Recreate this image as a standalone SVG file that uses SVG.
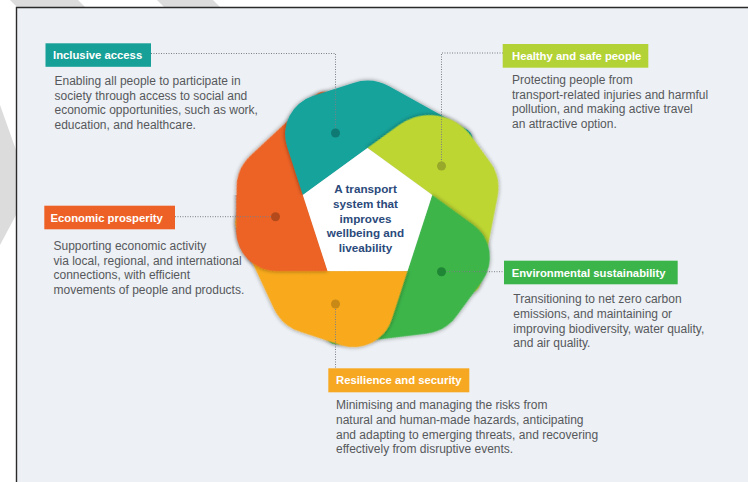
<svg xmlns="http://www.w3.org/2000/svg" width="748" height="482" viewBox="0 0 748 482">
<style>
  .desc{font-family:"Liberation Sans",Arial,sans-serif;font-size:12px;fill:#56585c}
  .tag{font-family:"Liberation Sans",Arial,sans-serif;font-size:11.3px;font-weight:bold;fill:#fff}
  .core{font-family:"Liberation Sans",Arial,sans-serif;font-size:11.7px;font-weight:bold;fill:#2b4a7b;text-anchor:middle}
  .lead{fill:none;stroke:#7b7f87;stroke-width:1;stroke-dasharray:1 1.5}
</style>
<defs>
  <!-- one pinwheel blade; the other blades are rotations of it about the centre (367.5,216) -->
  <path id="blade" d="M302.83,194.99 L287.07,146.49 A40 40 0 0 1 312.75,96.09 L353.39,82.89 A45 45 0 0 1 389.12,86.33 L466.52,129.2 A12 12 0 0 1 468.6,148.68 L450,165 L367.5,148 Z"/>
  <!-- same blade with a softer leading corner -->
  <path id="blade-soft" d="M302.83,194.99 L290.78,157.9 A52 52 0 0 1 324.16,92.38 L353.39,82.89 A45 45 0 0 1 389.12,86.33 L466.52,129.2 A12 12 0 0 1 468.6,148.68 L450,165 L367.5,148 Z"/>
  <filter id="shade" x="-15%" y="-15%" width="130%" height="130%">
    <feDropShadow dx="0" dy="0" stdDeviation="2.2" flood-color="#1c1c1c" flood-opacity="0.45"/>
  </filter>
  <clipPath id="lowerHalf"><rect x="200" y="195" width="300" height="200"/></clipPath>
</defs>

<!-- page and frame -->
<rect width="748" height="482" fill="#fff"/>
<path fill="#dcdcdc" d="M10,0 H78 L86,8 H18 Z M157,0 H213 L221,8 H165 Z M0,105 L16,150 V215 L0,245 Z"/>
<rect x="16.5" y="7.5" width="732" height="475" fill="#edf0f4"/>
<path d="M16.5,482 V7.5 H748" fill="none" stroke="#2a2a2a" stroke-width="1.4"/>

<!-- pinwheel -->
<g id="pinwheel">
  <use href="#blade" fill="#ed6425" transform="rotate(-72 367.5 216)" filter="url(#shade)"/>
  <use href="#blade" fill="#14a39b" filter="url(#shade)"/>
  <use href="#blade-soft" fill="#bdd631" transform="rotate(72 367.5 216)" filter="url(#shade)"/>
  <use href="#blade" fill="#3cb54a" transform="rotate(144 367.5 216)" filter="url(#shade)"/>
  <use href="#blade" fill="#f8aa1d" transform="rotate(216 367.5 216)" filter="url(#shade)"/>
  <!-- lower part of the orange blade again, so it lies over the yellow one -->
  <g clip-path="url(#lowerHalf)">
    <use href="#blade" fill="#ed6425" transform="rotate(-72 367.5 216)" filter="url(#shade)"/>
  </g>
  <polygon fill="#fff" points="367.5,148 432.17,194.99 407.47,271.01 327.53,271.01 302.83,194.99"/>
</g>

<g id="core">
  <text class="core" x="365.5" y="193">A transport</text>
  <text class="core" x="365.5" y="208.3">system that</text>
  <text class="core" x="365.5" y="222.7">improves</text>
  <text class="core" x="365.5" y="237.3">wellbeing and</text>
  <text class="core" x="365.5" y="252.3">liveability</text>
</g>

<!-- leader lines and anchor dots -->
<g id="connectors">
  <path class="lead" d="M151,53.5 H335.5 V133"/>
  <path class="lead" d="M503,53 H441.5 V166"/>
  <path class="lead" d="M175,216.7 H275.5"/>
  <path class="lead" d="M441.5,271.7 H504"/>
  <path class="lead" d="M335.5,304 V368"/>
  <circle cx="335.5" cy="133" r="4.5" fill="#0f7a73"/>
  <circle cx="441.5" cy="166" r="4.5" fill="#97a82a"/>
  <circle cx="275.5" cy="216.7" r="4.5" fill="#b44a1c"/>
  <circle cx="441.5" cy="271.7" r="4.5" fill="#1f8636"/>
  <circle cx="335.5" cy="304" r="4.5" fill="#c98917"/>
</g>

<g id="inclusive-access">
  <rect x="45.5" y="43.3" width="105.5" height="23.5" fill="#17a098"/>
  <text class="tag" x="53" y="59">Inclusive access</text>
  <text class="desc" x="54.5" y="85">Enabling all people to participate in</text>
  <text class="desc" x="54.5" y="99.6">society through access to social and</text>
  <text class="desc" x="54.5" y="114.2">economic opportunities, such as work,</text>
  <text class="desc" x="54.5" y="128.8">education, and healthcare.</text>
</g>

<g id="healthy-and-safe-people">
  <rect x="502.7" y="44" width="145.6" height="23.7" fill="#b3d235"/>
  <text class="tag" x="512" y="60">Healthy and safe people</text>
  <text class="desc" x="512" y="84.3">Protecting people from</text>
  <text class="desc" x="512" y="98.8">transport-related injuries and harmful</text>
  <text class="desc" x="512" y="113.2">pollution, and making active travel</text>
  <text class="desc" x="512" y="127.7">an attractive option.</text>
</g>

<g id="economic-prosperity">
  <rect x="44.3" y="205.7" width="130.7" height="23.6" fill="#ee6126"/>
  <text class="tag" x="50.5" y="221.6">Economic prosperity</text>
  <text class="desc" x="53.5" y="250">Supporting economic activity</text>
  <text class="desc" x="53.5" y="264.7">via local, regional, and international</text>
  <text class="desc" x="53.5" y="279.3">connections, with efficient</text>
  <text class="desc" x="53.5" y="294">movements of people and products.</text>
</g>

<g id="environmental-sustainability">
  <rect x="504" y="260.7" width="173.7" height="23.6" fill="#3bb54a"/>
  <text class="tag" x="511.7" y="276.6">Environmental sustainability</text>
  <text class="desc" x="513.3" y="303.3">Transitioning to net zero carbon</text>
  <text class="desc" x="513.3" y="318">emissions, and maintaining or</text>
  <text class="desc" x="513.3" y="332.7">improving biodiversity, water quality,</text>
  <text class="desc" x="513.3" y="347.3">and air quality.</text>
</g>

<g id="resilience-and-security">
  <rect x="328.3" y="368.3" width="141" height="24" fill="#f7a823"/>
  <text class="tag" x="336" y="384.4">Resilience and security</text>
  <text class="desc" x="336" y="409.3">Minimising and managing the risks from</text>
  <text class="desc" x="336" y="424">natural and human-made hazards, anticipating</text>
  <text class="desc" x="336" y="438.7">and adapting to emerging threats, and recovering</text>
  <text class="desc" x="336" y="453.3">effectively from disruptive events.</text>
</g>
</svg>
